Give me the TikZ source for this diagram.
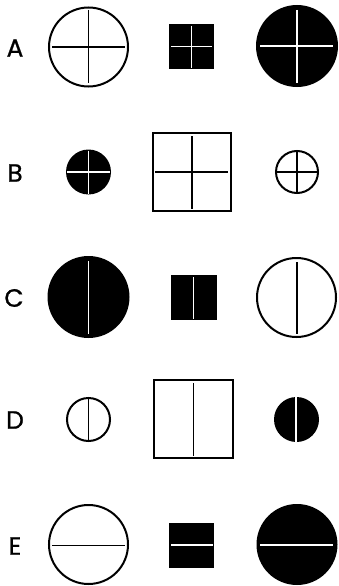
\documentclass[tikz,border=0pt]{standalone}
\usepackage{fontspec}
\setmainfont{Poppins}
\newfontfamily\labfont[FakeBold=0.8]{Poppins}
\begin{document}
\begin{tikzpicture}[x=1pt,y=-1pt,
  lab/.style={font=\labfont\fontsize{25}{27}\selectfont, inner sep=0pt},
  ring/.style={draw=black, line width=2pt},
  disc/.style={fill=black},
  boxo/.style={draw=black, line width=2pt},
  bline/.style={draw=black, line width=1.8pt},
  wline/.style={draw=white, line width=1.6pt}]
\useasboundingbox (0,0) rectangle (339,586);
% labels
\node[lab] (la) at (15,48) {A};
\node[lab] (lb) at (15,173) {B};
\node[lab] (lc) at (14,298) {C};
\node[lab] (ld) at (15,420) {D};
\node[lab] (le) at (15,546) {E};
% Row A
\draw[ring] (88.5,47) circle [radius=39.5pt];
\draw[bline] (52,47) -- (125,47) (88.5,10) -- (88.5,83);
\fill[disc] (169,24) rectangle (214,69);
\draw[wline] (171,46.5) -- (212,46.5) (191.5,26) -- (191.5,68);
\fill[disc] (297,46) circle [radius=41pt];
\draw[wline] (260,46) -- (333,46) (297,10) -- (297,83);
% Row B
\fill[disc] (88.5,172) circle [radius=22.5pt];
\draw[wline] (67,172) -- (110,172) (88.5,150.5) -- (88.5,193.5);
\draw[boxo] (153,133) rectangle (231,211);
\draw[bline] (155,172) -- (228,172) (192,136) -- (192,209);
\draw[ring] (297,172) circle [radius=21pt];
\draw[bline] (275.5,172) -- (318.5,172) (297,150.5) -- (297,193.5);
% Row C
\fill[disc] (88.5,297) circle [radius=41pt];
\draw[wline] (88.3,261) -- (88.3,334);
\fill[disc] (171,275) rectangle (217,320);
\draw[wline] (193.3,277) -- (193.3,319);
\draw[ring] (296.5,297.5) circle [radius=39.5pt];
\draw[bline] (297,262) -- (297,334);
% Row D
\draw[ring] (88.5,419.5) circle [radius=21.5pt];
\draw[bline] (88.5,397.5) -- (88.5,441.5);
\draw[boxo] (154,380) rectangle (233,458);
\draw[bline] (193.5,383) -- (193.5,456);
\fill[disc] (296.5,419.5) circle [radius=22.5pt];
\draw[wline] (296,397) -- (296,442);
% Row E
\draw[ring] (88.5,544.5) circle [radius=39.5pt];
\draw[bline] (52,545.5) -- (125,545.5);
\fill[disc] (169,523) rectangle (214,568);
\draw[wline] (171,545) -- (213,545);
\fill[disc] (297,544.5) circle [radius=40.5pt];
\draw[wline] (260,545) -- (333,545);
\end{tikzpicture}
\end{document}
